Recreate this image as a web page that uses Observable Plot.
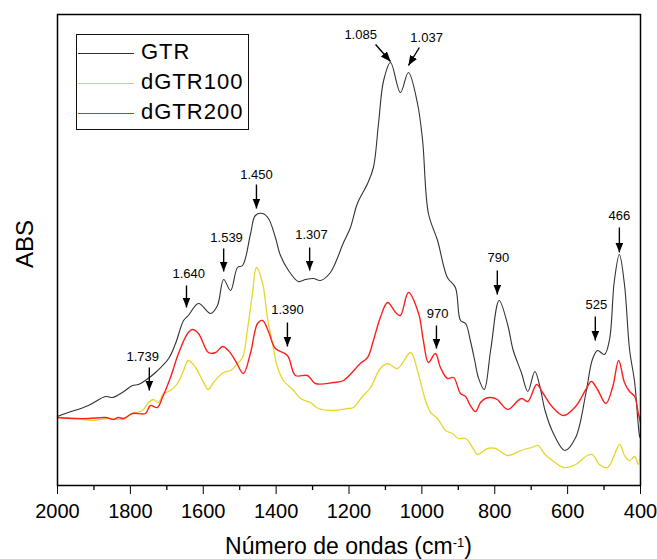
<!DOCTYPE html>
<html>
<head>
<meta charset="utf-8">
<script src="https://cdn.jsdelivr.net/npm/d3@7"></script>
<script src="https://cdn.jsdelivr.net/npm/@observablehq/plot@0.6"></script>
<style>
  html, body { margin: 0; padding: 0; background: #fff; }
  #wrap { position: relative; width: 657px; height: 559px; overflow: hidden; font-family: "Liberation Sans", Arial, sans-serif; }
  #legend { position: absolute; left: 76px; top: 34px; width: 171px; height: 92px; border: 1px solid #111; background: #fff; padding-top: 2px; }
  .row { height: 30px; line-height: 30px; white-space: nowrap; font-size: 22px; letter-spacing: 1px; color: #000; }
  .sw { display: inline-block; width: 56px; height: 0; vertical-align: middle; margin-left: 1px; margin-right: 7px; }
  #xtitle { position: absolute; left: 57px; width: 583px; top: 533px; height: 26px; text-align: center; font-size: 23px; line-height: 26px; color: #000; white-space: nowrap; }
  #xtitle sup { font-size: 13px; line-height: 0; vertical-align: 0.55em; }
</style>
</head>
<body>
<div id="wrap"></div>
<script>
// ---- data ----
const seriesNames = ["GTR", "dGTR100", "dGTR200"];
const seriesColors = ["#333333", "#e6d62a", "#ff1f1f"];

const wnGTR = [2000,1978,1915,1868,1849,1822,1794,1778,1759,1731,1695,1676,1654,1641,1613,1580,1561,1544,1525,1506,1492,1470,1457,1437,1421,1402,1388,1366,1339,1319,1298,1278,1251,1215,1196,1177,1149,1133,1119,1105,1086,1059,1037,1012,998,982,957,930,908,894,880,867,855,845,829,811,788,764,750,727,709,690,676,662,639,608,578,550,532,518,499,485,472,458,444,430,416,406,402,400];
const absGTR = [0.69,0.72,0.80,0.89,0.88,0.93,1.00,1.01,1.05,1.13,1.27,1.42,1.65,1.70,1.82,1.72,1.80,2.06,1.95,2.18,2.20,2.52,2.70,2.72,2.67,2.48,2.30,2.15,2.04,2.06,2.07,2.05,2.13,2.43,2.58,2.82,3.02,3.18,3.62,4.05,4.23,3.93,4.13,3.82,3.45,2.72,2.45,2.08,1.98,1.65,1.62,1.45,1.25,1.08,0.96,1.36,1.85,1.60,1.36,1.13,0.94,1.14,0.99,0.75,0.52,0.35,0.48,0.92,1.26,1.35,1.31,1.46,2.04,2.31,2.01,1.36,1.03,0.60,0.48,0.52];

const wnD100 = [2000,1951,1904,1860,1822,1794,1767,1750,1737,1723,1709,1690,1671,1654,1641,1621,1602,1586,1572,1544,1525,1506,1492,1479,1465,1454,1437,1424,1410,1396,1380,1352,1333,1306,1284,1243,1204,1188,1163,1141,1114,1094,1067,1031,1012,1000,990,976,957,935,916,900,880,861,847,820,798,788,764,727,699,681,662,634,611,578,546,532,513,490,457,444,430,416,406,400];
const absD100 = [0.68,0.67,0.65,0.67,0.66,0.72,0.75,0.83,0.86,0.83,0.92,0.95,1.02,1.15,1.25,1.18,1.05,0.96,1.03,1.13,1.15,1.22,1.28,1.55,1.92,2.18,2.02,1.68,1.42,1.18,1.05,0.95,0.87,0.83,0.77,0.75,0.77,0.78,0.89,0.98,1.17,1.22,1.17,1.33,1.15,0.98,0.85,0.73,0.67,0.55,0.52,0.47,0.47,0.38,0.31,0.37,0.37,0.35,0.30,0.35,0.38,0.40,0.31,0.23,0.18,0.21,0.30,0.31,0.21,0.18,0.41,0.30,0.25,0.29,0.21,0.36];

const wnD200 = [2000,1951,1915,1868,1846,1833,1819,1794,1759,1745,1726,1712,1690,1668,1643,1630,1613,1586,1566,1547,1531,1512,1490,1470,1451,1437,1421,1402,1369,1347,1314,1292,1243,1215,1169,1149,1133,1114,1094,1072,1059,1037,1009,996,982,963,949,930,913,894,880,867,853,839,826,812,793,783,764,727,709,685,667,643,611,578,550,535,518,495,476,460,444,430,416,406,400];
const absD200 = [0.68,0.67,0.67,0.68,0.66,0.68,0.67,0.72,0.72,0.80,0.78,0.88,1.08,1.32,1.52,1.56,1.52,1.33,1.33,1.39,1.35,1.25,1.12,1.33,1.62,1.65,1.54,1.37,1.30,1.10,1.10,1.02,1.03,1.05,1.22,1.28,1.45,1.68,1.83,1.73,1.70,1.93,1.72,1.45,1.23,1.32,1.18,1.07,1.08,0.92,0.89,0.80,0.74,0.83,0.87,0.88,0.86,0.82,0.76,0.87,0.84,1.01,0.92,0.79,0.70,0.79,0.96,1.04,0.96,0.82,0.99,1.25,1.03,0.94,0.89,0.72,0.63];

const xMajorTicks = [2000,1800,1600,1400,1200,1000,800,600,400];
const xMinorTicks = [1900,1700,1500,1300,1100,900,700,500];

const annoLabels = ["1.739","1.640","1.539","1.450","1.307","1.390","1.085","1.037","970","790","525","466"];
const annoTextX  = [1766,1640,1536,1454,1303,1369,1168,987,957,790,521,458];
const annoTextY  = [1.29,2.12,2.48,3.11,2.51,1.76,4.51,4.48,1.72,2.28,1.81,2.70];
const arrowX1    = [1748,1646,1544,1454,1308,1369,1127,1007,960,793,524,458];
const arrowY1    = [1.18,2.00,2.37,3.01,2.38,1.63,4.41,4.38,1.60,2.15,1.69,2.58];
const arrowX2    = [1748,1646,1544,1454,1308,1369,1086,1037,960,793,524,458];
const arrowY2    = [0.95,1.78,2.14,2.77,2.15,1.39,4.24,4.20,1.37,1.91,1.45,2.33];

// ---- build tables ----
const spectra = [];
[[wnGTR, absGTR], [wnD100, absD100], [wnD200, absD200]].forEach(([wn, ab], k) => {
  wn.forEach((w, i) => spectra.push({series: seriesNames[k], wn: w, abs: ab[i]}));
});
const annos = annoLabels.map((t, i) => ({
  label: t, tx: annoTextX[i], ty: annoTextY[i],
  x1: arrowX1[i], y1: arrowY1[i], x2: arrowX2[i], y2: arrowY2[i]
}));

function arrowHead(color) {
  const ns = "http://www.w3.org/2000/svg";
  const m = document.createElementNS(ns, "marker");
  m.setAttribute("viewBox", "-10 -4 10 8");
  m.setAttribute("markerWidth", "10");
  m.setAttribute("markerHeight", "8");
  m.setAttribute("markerUnits", "userSpaceOnUse");
  m.setAttribute("orient", "auto");
  m.setAttribute("refX", "0");
  m.setAttribute("refY", "0");
  const p = document.createElementNS(ns, "path");
  p.setAttribute("d", "M-10,-4L0,0L-10,4Z");
  p.setAttribute("fill", color || "black");
  p.setAttribute("stroke", "none");
  m.appendChild(p);
  return m;
}

const chart = Plot.plot({
  width: 657,
  height: 530,
  marginLeft: 57,
  marginRight: 17,
  marginTop: 14,
  marginBottom: 45,
  style: {fontFamily: "'Liberation Sans', Arial, sans-serif", fontSize: "20px", color: "#000", background: "#fff"},
  x: {domain: [2000, 400], ticks: xMajorTicks, tickFormat: d => String(d), tickSize: 9, tickPadding: 9, label: null},
  y: {domain: [0, 4.71], axis: null},
  color: {domain: seriesNames, range: seriesColors},
  marks: [
    Plot.ruleX(xMinorTicks, {x: d => d, y1: 0, y2: -0.05, stroke: "#000", strokeWidth: 1.3}),
    Plot.line(spectra.filter(d => d.series === "GTR"), {x: "wn", y: "abs", stroke: seriesColors[0], strokeWidth: 1.1, curve: "catmull-rom"}),
    Plot.line(spectra.filter(d => d.series === "dGTR100"), {x: "wn", y: "abs", stroke: seriesColors[1], strokeWidth: 1.3, curve: "catmull-rom"}),
    Plot.line(spectra.filter(d => d.series === "dGTR200"), {x: "wn", y: "abs", stroke: seriesColors[2], strokeWidth: 1.4, curve: "catmull-rom"}),
    Plot.link(annos, {x1: "x1", y1: "y1", x2: "x2", y2: "y2", stroke: "#000", strokeWidth: 1.4, markerEnd: arrowHead}),
    Plot.text(annos, {x: "tx", y: "ty", text: "label", fontSize: 13, fill: "#000", fontWeight: d => d.label === "1.390" ? "bold" : "normal"}),
    Plot.text(["ABS"], {text: d => d, frameAnchor: "left", dx: -32, dy: 18, rotate: -90, fontSize: 24, fill: "#000"}),
    Plot.frame({stroke: "#000", strokeWidth: 1.5})
  ]
});

const wrap = document.getElementById("wrap");
wrap.appendChild(chart);

// legend (inside the plot frame)
const legend = document.createElement("div");
legend.id = "legend";
seriesNames.forEach((name, i) => {
  const row = document.createElement("div");
  row.className = "row";
  const sw = document.createElement("span");
  sw.className = "sw";
  sw.style.borderTop = `1.5px solid ${seriesColors[i]}`;
  row.appendChild(sw);
  row.appendChild(document.createTextNode(name));
  legend.appendChild(row);
});
wrap.appendChild(legend);

const xt = document.createElement("div");
xt.id = "xtitle";
xt.innerHTML = "Número de ondas (cm<sup>-1</sup>)";
wrap.appendChild(xt);
</script>
</body>
</html>
